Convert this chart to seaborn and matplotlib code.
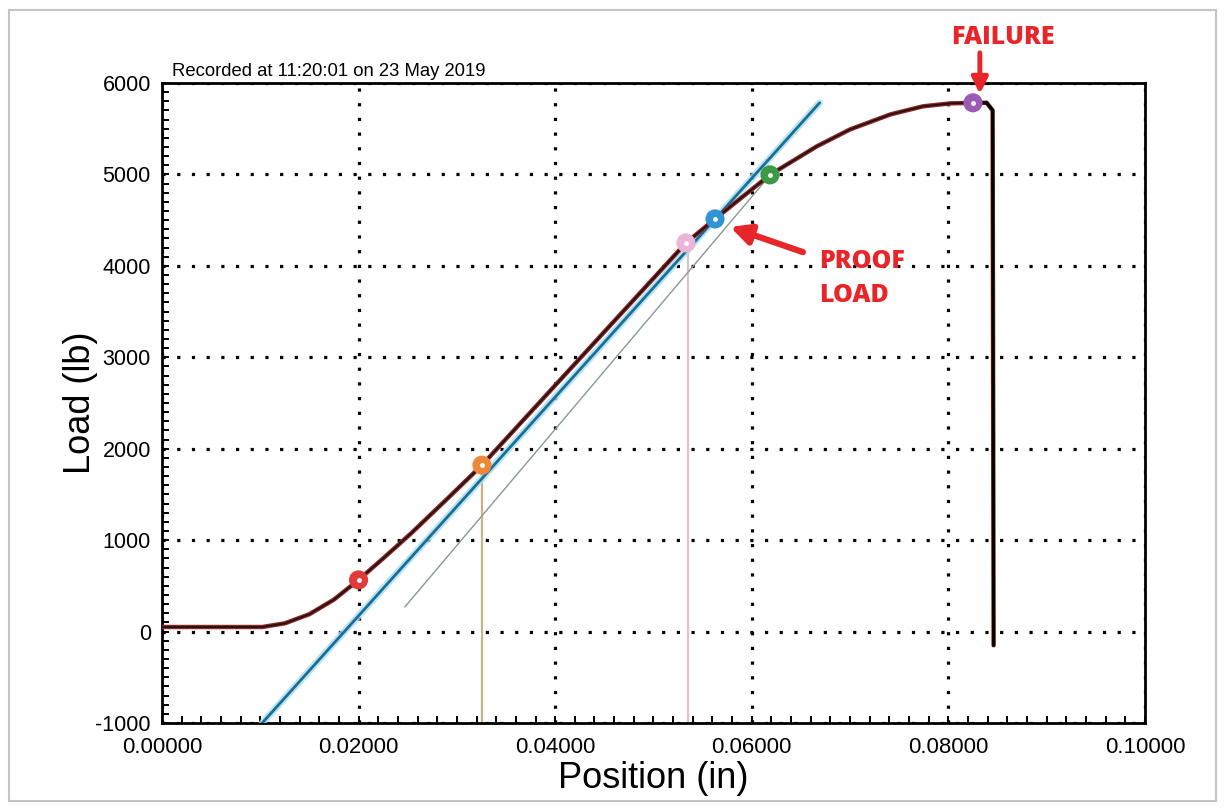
import numpy as np
import pandas as pd
import matplotlib
matplotlib.use("Agg")
import matplotlib.pyplot as plt
from matplotlib.patches import Rectangle
from matplotlib.ticker import MultipleLocator, FormatStrFormatter
import seaborn as sns

# load / position trace
position = [0.0, 0.0102, 0.0125, 0.0150, 0.0175, 0.0200, 0.0225, 0.0254, 0.0290,
            0.03255, 0.0423, 0.0533, 0.05626, 0.06185, 0.0666, 0.0700, 0.0741,
            0.0774, 0.0802, 0.0825, 0.0839, 0.0845, 0.0846]
load = [50, 50, 90, 190, 350, 565, 800, 1080, 1450,
        1820, 2962, 4250, 4513, 4995, 5306, 5492, 5656,
        5744, 5777, 5783, 5783, 5700, -150]

# elastic fit line and offset line
fit_pos = [0.0102, 0.0669]
fit_load = [-1000, 5783]
offset_pos = [0.0247, 0.0613]
offset_load = [268, 4920]

# marked points
mark_pos = [0.0200, 0.03255, 0.0533, 0.05626, 0.06185, 0.0825]
mark_load = [565, 1820, 4250, 4513, 4995, 5783]
mark_colors = ["#e23a3a", "#f0883a", "#eeb4d8", "#2f93d6", "#3c9a45", "#9b5bb5"]

# drop lines
drop_pos = [0.03255, 0.0535]
drop_top = [1820, 4250]
drop_colors = ["#c9b48a", "#d9c4c8"]

sns.set_theme(style="white")
plt.rcParams["font.family"] = ["Liberation Sans", "DejaVu Sans"]
plt.rcParams["axes.unicode_minus"] = False

fig, ax = plt.subplots(figsize=(12.25, 8.11), dpi=100)
fig.subplots_adjust(left=0.1322, right=0.9347, top=0.8977, bottom=0.1085)

# frame around the whole picture
fig.patches.append(Rectangle((0.007, 0.012), 0.986, 0.976, transform=fig.transFigure,
                             fill=False, edgecolor="#c4c4c4", linewidth=1.5))

for x, top, c in zip(drop_pos, drop_top, drop_colors):
    ax.plot([x, x], [-1000, top], color=c, linewidth=1.6, zorder=2)

sns.lineplot(x=offset_pos, y=offset_load, ax=ax, color="#8a9a90", linewidth=1.0,
             sort=False, zorder=3)
sns.lineplot(x=fit_pos, y=fit_load, ax=ax, color="#a8ddf0", linewidth=5.0,
             sort=False, zorder=3, alpha=0.8)
sns.lineplot(x=fit_pos, y=fit_load, ax=ax, color="#1a6f94", linewidth=2.0,
             sort=False, zorder=4)

curve = pd.DataFrame({"pos": position, "load": load})
sns.lineplot(data=curve, x="pos", y="load", ax=ax, color="#8a2a2a", linewidth=3.2,
             sort=False, zorder=5)
sns.lineplot(data=curve, x="pos", y="load", ax=ax, color="#2a0f0f", linewidth=1.4,
             sort=False, zorder=6)
# the part after failure is plain black
ax.plot(position[-4:], load[-4:], color="black", linewidth=2.2, zorder=7)

sns.scatterplot(x=mark_pos, y=mark_load, ax=ax, hue=list(range(len(mark_pos))),
                palette=mark_colors, s=190, edgecolor="none", legend=False, zorder=8)
ax.scatter(mark_pos, mark_load, s=6, color="white", zorder=9)

ax.set_xlim(0, 0.1)
ax.set_ylim(-1000, 6000)
ax.xaxis.set_major_locator(MultipleLocator(0.02))
ax.xaxis.set_minor_locator(MultipleLocator(0.002))
ax.yaxis.set_major_locator(MultipleLocator(1000))
ax.yaxis.set_minor_locator(MultipleLocator(100))
ax.xaxis.set_major_formatter(FormatStrFormatter("%.5f"))
ax.tick_params(which="both", direction="in", length=5, width=1.4, color="black",
               bottom=True, left=True, top=False, right=False)
ax.tick_params(axis="both", which="major", labelsize=15.5, pad=8, colors="black")
ax.tick_params(axis="x", which="major", labelsize=16, pad=10)

ax.grid(True, which="major", color="black", linestyle=(0, (1, 3.6)), linewidth=2.3)
for s in ax.spines.values():
    s.set_color("black")
    s.set_linewidth(2.0)

ax.set_xlabel("Position (in)", fontsize=26, color="black", labelpad=2)
ax.set_ylabel("Load (lb)", fontsize=26, color="black", labelpad=-2)

ax.text(0.01, 1.004, "Recorded at 11:20:01 on 23 May 2019", transform=ax.transAxes,
        fontsize=13.3, color="black", ha="left", va="bottom")

red = "#e8262a"
bold = dict(fontsize=18, fontweight="heavy", color=red, family=["Open Sans", "DejaVu Sans"])
ax.text(0.0855, 6495, "FAILURE", ha="center", va="center", clip_on=False, **bold)
ax.annotate("", xy=(0.0832, 5880), xytext=(0.0832, 6330), annotation_clip=False,
            arrowprops=dict(arrowstyle="-|>", color=red, lw=3.5, mutation_scale=24,
                            shrinkA=0, shrinkB=0))
ax.annotate("", xy=(0.0578, 4425), xytext=(0.0652, 4150),
            arrowprops=dict(arrowstyle="-|>", color=red, lw=4.5, mutation_scale=30,
                            shrinkA=0, shrinkB=0))
ax.text(0.0669, 4044, "PROOF", ha="left", va="center", **bold)
ax.text(0.0669, 3672, "LOAD", ha="left", va="center", **bold)

fig.savefig("out.png", dpi=100, facecolor="white")
